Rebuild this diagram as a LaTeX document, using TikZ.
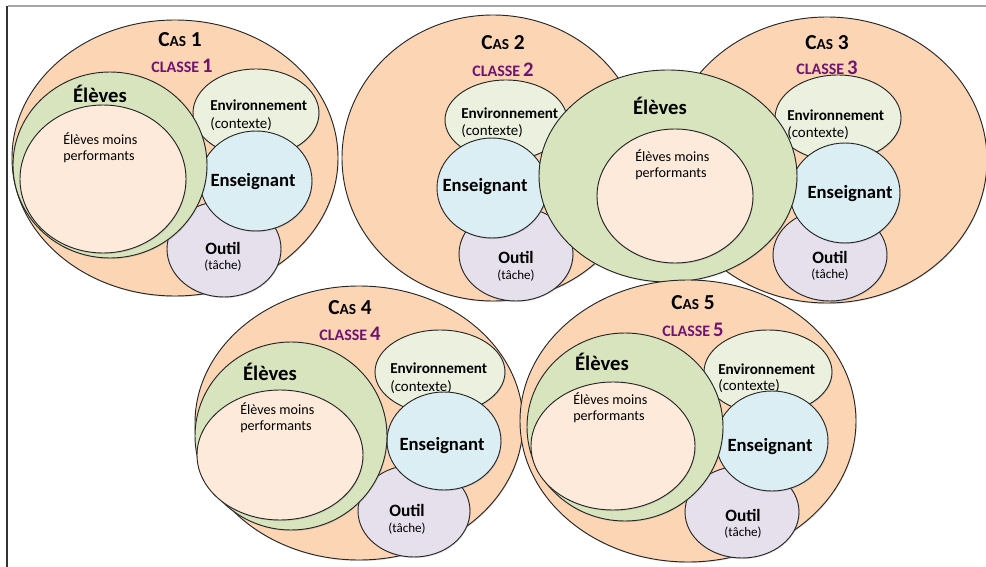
\documentclass[tikz,border=0pt]{standalone}
\usepackage{fontspec}
\setmainfont{Carlito}
\usepackage{tikz}
\usetikzlibrary{shadows}
\definecolor{CasColor}{RGB}{252,213,180}
\definecolor{EleveColor}{RGB}{215,228,189}
\definecolor{FaibleColor}{RGB}{253,234,218}
\definecolor{EnvColor}{RGB}{235,241,222}
\definecolor{ProfColor}{RGB}{219,238,244}
\definecolor{OutilColor}{RGB}{230,224,236}
\definecolor{ClasseColor}{RGB}{112,20,112}
\newcommand{\castitre}[1]{\textbf{\fontsize{16}{18}\selectfont C{\fontsize{11.5}{14}\selectfont AS} #1}}
\newcommand{\classetitre}[1]{\textcolor{ClasseColor}{\textbf{{\fontsize{12}{14}\selectfont CLASSE} {\fontsize{15.5}{17}\selectfont #1}}}}
\tikzset{
  zone/.style={draw=black!85, line width=0.7pt, drop shadow={opacity=0.25, shadow xshift=0.5pt, shadow yshift=-0.8pt}},
  cas/.style={zone, fill=CasColor},
  eleves/.style={zone, fill=EleveColor},
  faibles/.style={zone, fill=FaibleColor},
  envir/.style={zone, fill=EnvColor},
  prof/.style={zone, fill=ProfColor},
  outil/.style={zone, fill=OutilColor},
  grandtxt/.style={font=\bfseries\fontsize{15.5}{18}\selectfont},
  moyentxt/.style={font=\bfseries\fontsize{14}{16}\selectfont},
  envtxt/.style={anchor=west, inner sep=0pt, font=\bfseries\fontsize{11.4}{13}\selectfont},
  ctxtxt/.style={anchor=west, inner sep=0pt, font=\fontsize{11.2}{13}\selectfont},
  outtxt/.style={font=\bfseries\fontsize{13}{15}\selectfont},
  tachetxt/.style={font=\fontsize{9.8}{12}\selectfont},
  faibletxt/.style={anchor=west, align=left, inner sep=0pt, font=\fontsize{10.6}{12.2}\selectfont}
}
\begin{document}
\begin{tikzpicture}[x=0.75pt, y=-0.75pt]
  \useasboundingbox (0,0) rectangle (986,567);
  % page edges
  \draw[black!35, line width=1pt] (8,6) -- (986,6);
  \draw[black!80, line width=0.8pt] (7,6) -- (7,567);

  % Cas 1
  \draw[cas] (175,158) ellipse [x radius=163, y radius=138];
  \node (cas1) at (180,40) {\castitre{1}};
  \node (classe1) at (182,66) {\classetitre{1}};
  \draw[outil] (224,249) ellipse [x radius=57, y radius=48];
  \node[outtxt] (outil1) at (223,248) {Outil};
  \node[tachetxt] (tache1) at (223,266) {(tâche)};
  \draw[envir] (256,113) ellipse [x radius=63, y radius=44];
  \node[envtxt] (env1) at (210,105) {Environnement};
  \node[ctxtxt] (ctx1) at (210,124) {(contexte)};
  \draw[prof] (256,181) ellipse [x radius=56, y radius=50];
  \node[moyentxt] (prof1) at (253,182) {Enseignant};
  \draw[eleves] (110,165) ellipse [x radius=97, y radius=93];
  \node[grandtxt] (eleves1) at (100,94) {Élèves};
  \draw[faibles] (103,179) ellipse [x radius=83, y radius=74];
  \node[faibletxt] (faibles1) at (63,148) {Élèves moins\\performants};

  % Cas 2
  \draw[cas] (493,158) ellipse [x radius=151, y radius=143];
  \node (cas2) at (503,43) {\castitre{2}};
  \node (classe2) at (503,70) {\classetitre{2}};
  \draw[outil] (516,254) ellipse [x radius=57, y radius=47];
  \node[outtxt] (outil2) at (516,257) {Outil};
  \node[tachetxt] (tache2) at (516,276) {(tâche)};
  \draw[envir] (506,120) ellipse [x radius=61, y radius=40];
  \node[envtxt] (env2) at (461,113) {Environnement};
  \node[ctxtxt] (ctx2) at (461,131) {(contexte)};
  \draw[prof] (492,188) ellipse [x radius=55, y radius=50];
  \node[moyentxt] (prof2) at (485,187) {Enseignant};

  % Cas 3
  \draw[cas] (827,160) ellipse [x radius=160, y radius=143];
  \node (cas3) at (827,43) {\castitre{3}};
  \node (classe3) at (827,68) {\classetitre{3}};
  \draw[outil] (830,255) ellipse [x radius=57, y radius=46];
  \node[outtxt] (outil3) at (830,257) {Outil};
  \node[tachetxt] (tache3) at (830,275) {(tâche)};
  \draw[envir] (838,118) ellipse [x radius=63, y radius=43];
  \node[envtxt] (env3) at (787,115) {Environnement};
  \node[ctxtxt] (ctx3) at (787,133) {(contexte)};
  \draw[prof] (845,193) ellipse [x radius=55, y radius=50];
  \node[moyentxt] (prof3) at (850,194) {Enseignant};

  % Élèves shared by Cas 2 and Cas 3
  \draw[eleves] (668,176) ellipse [x radius=129, y radius=106];
  \node[grandtxt] (eleves23) at (660,106) {Élèves};
  \draw[faibles] (675,196) ellipse [x radius=78, y radius=67];
  \node[faibletxt] (faibles23) at (635,165) {Élèves moins\\performants};

  % Cas 4
  \draw[cas] (359,423) ellipse [x radius=164, y radius=137];
  \node (cas4) at (350,308) {\castitre{4}};
  \node (classe4) at (350,334) {\classetitre{4}};
  \draw[outil] (414,511) ellipse [x radius=56, y radius=46];
  \node[outtxt] (outil4) at (407,510) {Outil};
  \node[tachetxt] (tache4) at (407,529) {(tâche)};
  \draw[envir] (440,372) ellipse [x radius=65, y radius=42];
  \node[envtxt] (env4) at (390,368) {Environnement};
  \node[ctxtxt] (ctx4) at (390,387) {(contexte)};
  \draw[prof] (444,441) ellipse [x radius=57, y radius=49];
  \node[moyentxt] (prof4) at (442,446) {Enseignant};
  \draw[eleves] (291,436) ellipse [x radius=96, y radius=94];
  \node[grandtxt] (eleves4) at (270,372) {Élèves};
  \draw[faibles] (280,455) ellipse [x radius=83, y radius=65];
  \node[faibletxt] (faibles4) at (240,418) {Élèves moins\\performants};

  % Cas 5
  \draw[cas] (688,421) ellipse [x radius=168, y radius=141];
  \node (cas5) at (693,303) {\castitre{5}};
  \node (classe5) at (693,330) {\classetitre{5}};
  \draw[outil] (742,512) ellipse [x radius=57, y radius=46];
  \node[outtxt] (outil5) at (743,515) {Outil};
  \node[tachetxt] (tache5) at (743,533) {(tâche)};
  \draw[envir] (768,372) ellipse [x radius=64, y radius=42];
  \node[envtxt] (env5) at (718,369) {Environnement};
  \node[ctxtxt] (ctx5) at (718,386) {(contexte)};
  \draw[prof] (772,441) ellipse [x radius=56, y radius=50];
  \node[moyentxt] (prof5) at (770,447) {Enseignant};
  \draw[eleves] (625,427) ellipse [x radius=98, y radius=94];
  \node[grandtxt] (eleves5) at (602,362) {Élèves};
  \draw[faibles] (613,446) ellipse [x radius=82, y radius=64];
  \node[faibletxt] (faibles5) at (573,408) {Élèves moins\\performants};
\end{tikzpicture}
\end{document}
